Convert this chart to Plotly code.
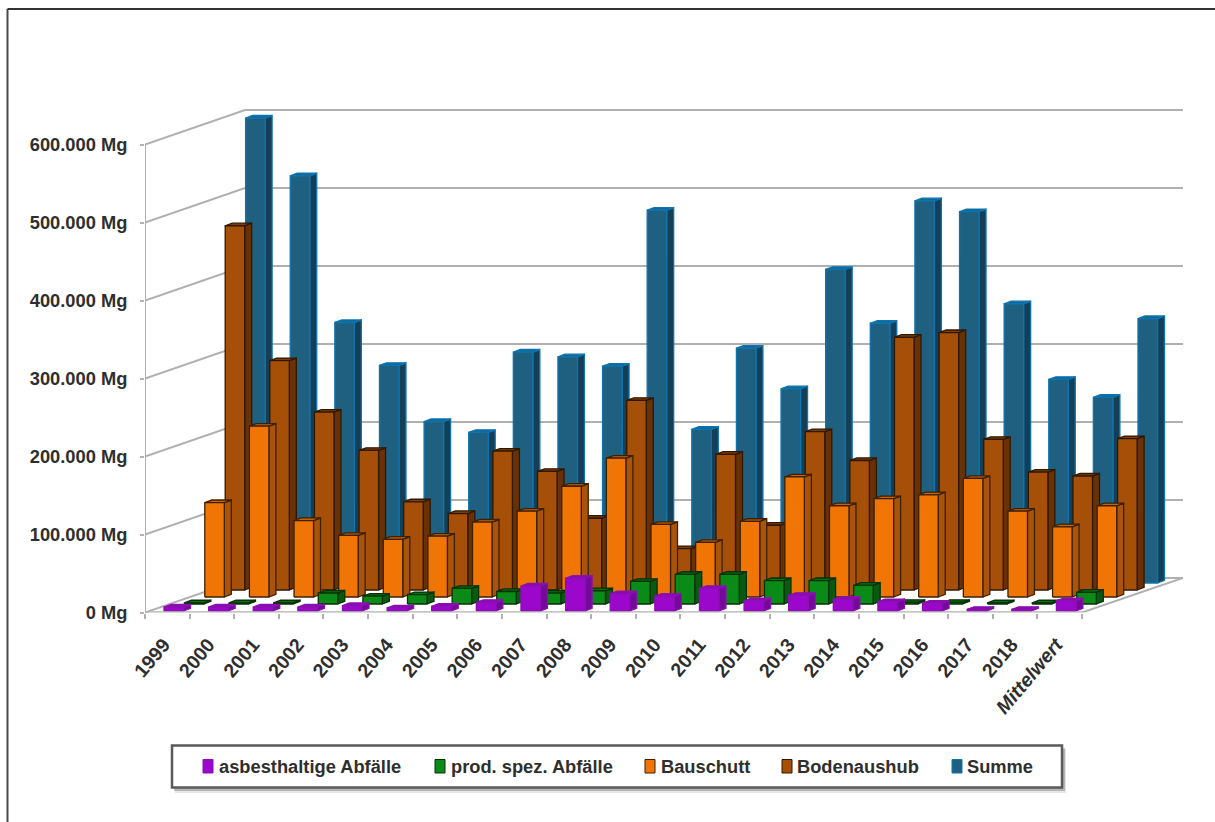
import plotly.graph_objects as go

# Annual waste quantities in Mg, one list per series
categories = ["1999", "2000", "2001", "2002", "2003", "2004", "2005", "2006", "2007", "2008",
              "2009", "2010", "2011", "2012", "2013", "2014", "2015", "2016", "2017", "2018",
              "Mittelwert"]
asbest = [5000, 5000, 5000, 5000, 7000, 4000, 6000, 11000, 32000, 42000, 22000,
          19000, 29000, 13000, 20000, 15000, 12000, 10000, 2000, 2000, 13000]
prod_spez = [1500, 1500, 1500, 14000, 10000, 12000, 20000, 16000, 14000, 17000, 29000,
             38000, 38000, 30000, 30000, 24000, 2000, 2000, 1500, 1500, 15000]
bauschutt = [121000, 219000, 98000, 79000, 74000, 78000, 96000, 110000, 142000, 178000, 93000,
             70000, 97000, 154000, 117000, 126000, 131000, 152000, 110000, 90000, 117000]
bodenaushub = [467000, 294000, 228000, 179000, 113000, 98000, 178000, 152000, 92000, 243000, 53000,
               174000, 83000, 203000, 166000, 324000, 330000, 193000, 151000, 146000, 194000]
summe = [596000, 522000, 334000, 279000, 207000, 193000, 296000, 290000, 278000, 478000, 197000,
         301000, 249000, 402000, 333000, 490000, 476000, 358000, 261000, 238000, 339000]

series_names = ["asbesthaltige Abfälle", "prod. spez. Abfälle", "Bauschutt", "Bodenaushub", "Summe"]
y_ticks = [0, 100000, 200000, 300000, 400000, 500000, 600000]
y_labels = ["0 Mg", "100.000 Mg", "200.000 Mg", "300.000 Mg", "400.000 Mg", "500.000 Mg", "600.000 Mg"]

W, H = 1215, 822

# Axis frame in page pixels
LEFT, RIGHT, BOTTOM, TOP = 145.0, 1183.0, 612.5, 105.5
CAT_PX = 44.62              # width of one category
MG_PX = 0.78 / 1000         # pixels per Mg

# Oblique projection, expressed in axis units
BAR_OFFSET = 19.0 / CAT_PX
BAR_WIDTH = 19.5 / CAT_PX
ROW_DX = 20.4 / CAT_PX
ROW_DY = 7.0 / MG_PX
BASE_LIFT = 1.5 / MG_PX
SIDE_DX = 7.0 / CAT_PX
SIDE_DY = 2.6 / MG_PX
WALL_DX = 100.0 / CAT_PX
WALL_DY = 34.5 / MG_PX
X_MAX = (RIGHT - LEFT) / CAT_PX
Y_MAX = (BOTTOM - TOP) / MG_PX
N_CAT = len(categories)

GRID = "#B0B0B0"
TEXT = "#2E2E2E"

# front, side, top, outline
series_styles = [
    ("#9C07CC", "#74099A", "#8A08B4", "#8A10B0"),
    ("#0A8A16", "#075A10", "#0A6E14", "#063206"),
    ("#F07505", "#A9530B", "#C8610A", "#3C2000"),
    ("#A64F08", "#693206", "#7E3C06", "#301800"),
    ("#1F6080", "#143F56", "#0F6796", "#0E74B0"),
]


def join_polys(polys):
    xs, ys = [], []
    for px, py in polys:
        xs += px + [px[0], None]
        ys += py + [py[0], None]
    return xs, ys


def add_wall_line(fig, xs, ys, width=2):
    fig.add_trace(go.Scatter(x=xs, y=ys, mode="lines", hoverinfo="skip", showlegend=False,
                             cliponaxis=False, line=dict(color=GRID, width=width)))


fig = go.Figure()

# Gridlines on the side wall and the back wall
for v in y_ticks:
    add_wall_line(fig, [0, WALL_DX, X_MAX], [v, v + WALL_DY, v + WALL_DY])
# Vertical axis and right floor edge
add_wall_line(fig, [0, 0], [0, y_ticks[-1]])
add_wall_line(fig, [N_CAT, X_MAX], [0, WALL_DY])

# Bars, drawn from the back row to the front row
rows = [summe, bodenaushub, bauschutt, prod_spez, asbest]
for r in range(4, -1, -1):
    values = rows[4 - r]
    front_c, side_c, top_c, edge_c = series_styles[r]
    fronts, sides, tops = [], [], []
    for i, v in enumerate(values):
        x0 = i + BAR_OFFSET + r * ROW_DX
        x1 = x0 + BAR_WIDTH
        base = BASE_LIFT + r * ROW_DY
        top = base + v
        fronts.append(([x0, x1, x1, x0], [base, base, top, top]))
        sides.append(([x1, x1 + SIDE_DX, x1 + SIDE_DX, x1],
                      [base, base + SIDE_DY, top + SIDE_DY, top]))
        tops.append(([x0, x1, x1 + SIDE_DX, x0 + SIDE_DX],
                     [top, top, top + SIDE_DY, top + SIDE_DY]))
    for polys, color, face in ((sides, side_c, "side"), (tops, top_c, "top"), (fronts, front_c, "front")):
        xs, ys = join_polys(polys)
        fig.add_trace(go.Scatter(x=xs, y=ys, mode="lines", fill="toself", fillcolor=color,
                                 line=dict(color=edge_c, width=1.3),
                                 name=f"{series_names[r]} {face}", hoverinfo="skip",
                                 showlegend=False))

# Front edge of the floor
add_wall_line(fig, [0, N_CAT], [0, 0], width=2.5)


def px_x(p):
    return p / W


def px_y(p):
    return 1 - p / H


shapes = [
    # Outer frame, open towards the page's right and bottom edges
    dict(type="line", xref="paper", yref="paper", x0=px_x(7.5), x1=px_x(7.5), y0=0, y1=px_y(9),
         line=dict(color="#4A4A4A", width=2)),
    dict(type="line", xref="paper", yref="paper", x0=px_x(7.5), x1=1, y0=px_y(9), y1=px_y(9),
         line=dict(color="#333333", width=2)),
    # Legend shadow and box
    dict(type="rect", xref="paper", yref="paper", x0=px_x(175), x1=px_x(1066), y0=px_y(793), y1=px_y(749),
         line=dict(width=0), fillcolor="rgba(120,120,120,0.18)"),
    dict(type="rect", xref="paper", yref="paper", x0=px_x(174), x1=px_x(1065), y0=px_y(791), y1=px_y(748),
         line=dict(width=0), fillcolor="rgba(90,90,90,0.35)"),
    dict(type="rect", xref="paper", yref="paper", x0=px_x(172), x1=px_x(1062), y0=px_y(787.5), y1=px_y(745.5),
         line=dict(color="#5A5A5A", width=2.5), fillcolor="white"),
]

# Legend row: swatch plus label, positions in page pixels
legend_x = [203, 435, 645, 782, 952]
legend_text_gap = [14, 14, 14, 13, 13]
annotations = []
for r, name in enumerate(series_names):
    sx = legend_x[r]
    front_c, _, _, edge_c = series_styles[r]
    shapes.append(dict(type="rect", xref="paper", yref="paper",
                       x0=px_x(sx), x1=px_x(sx + 10), y0=px_y(773), y1=px_y(759.5),
                       fillcolor=front_c, line=dict(color=edge_c, width=1)))
    annotations.append(dict(xref="paper", yref="paper", x=px_x(sx + legend_text_gap[r]), y=px_y(766.5),
                            xanchor="left", yanchor="middle", showarrow=False, text=name,
                            font=dict(family="Liberation Sans", size=18.3, color=TEXT, weight=700)))

x_ticktext = [f"<i>{c}</i>" if c == "Mittelwert" else c for c in categories]

fig.update_layout(
    width=W, height=H,
    margin=dict(l=0, r=0, t=0, b=0),
    paper_bgcolor="white",
    plot_bgcolor="white",
    showlegend=False,
    shapes=shapes,
    annotations=annotations,
    xaxis=dict(
        domain=[LEFT / W, RIGHT / W],
        range=[0, X_MAX],
        automargin=False,
        showgrid=False, zeroline=False, fixedrange=True,
        showline=False,
        tickmode="array",
        tickvals=[i + 0.42 for i in range(N_CAT)],
        ticktext=x_ticktext,
        tickangle=-50,
        ticks="",
        ticklabelstandoff=16,
        tickfont=dict(family="Liberation Sans", size=19.5, color=TEXT, weight=700),
        minor=dict(tickmode="array", tickvals=list(range(N_CAT + 1)), ticks="outside",
                   ticklen=5, tickwidth=1.5, tickcolor=GRID),
    ),
    yaxis=dict(
        domain=[1 - BOTTOM / H, 1 - TOP / H],
        range=[0, Y_MAX],
        automargin=False,
        showgrid=False, zeroline=False, fixedrange=True,
        showline=False,
        tickmode="array",
        tickvals=y_ticks,
        ticktext=y_labels,
        ticks="outside", ticklen=4, tickwidth=1.5, tickcolor=GRID,
        ticklabelstandoff=9,
        tickfont=dict(family="Liberation Sans", size=18.3, color=TEXT, weight=700),
    ),
)

fig.write_html("out.html", config=dict(displayModeBar=False))
